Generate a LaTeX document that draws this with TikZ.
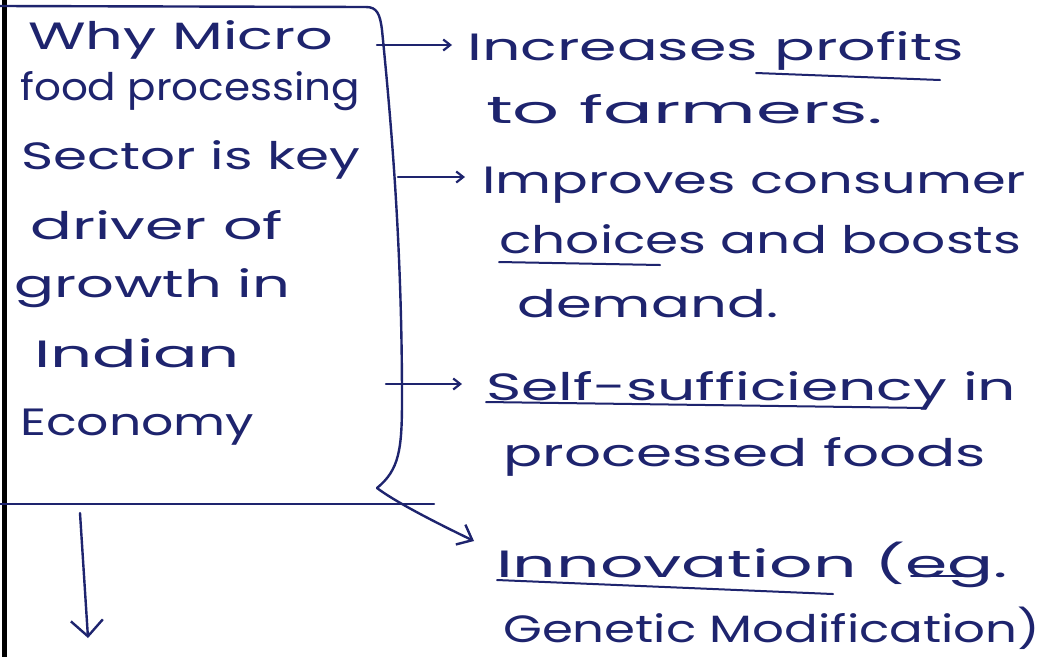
\documentclass[tikz,border=0pt]{standalone}
\usepackage{fontspec}
\usepackage{graphicx}
\setmainfont{Poppins}
\usetikzlibrary{arrows.meta,calc}
\definecolor{ink}{RGB}{30,36,110}
% set a line of text to a given width by stretching it sideways only
\newlength\handwd
\newcommand\handline[2]{%
  \settowidth\handwd{#2}%
  \pgfmathsetmacro\handfac{#1/\handwd}%
  \scalebox{\handfac}[1]{#2}}

\begin{document}
\begin{tikzpicture}[x=1pt,y=-1pt,
  inkline/.style={draw=ink,line width=2.4pt,line cap=round,line join=round},
  txt/.style={anchor=base west,inner sep=0pt,text=ink,font=\fontsize{38}{42}\selectfont},
  smalltip/.style={-{Straight Barb[length=7pt,width=11pt,line width=2.2pt]}},
  bigtip/.style={-{Straight Barb[length=16pt,width=32pt,line width=2.4pt]}},
]
\useasboundingbox[fill=white] (0,0) rectangle (1043,657);

% page margin rule
\draw[black,line width=5pt] (4,0) -- (4,657);

% left block: the question
\node[txt] (q1) at (28,49)  {\handline{305}{Why Micro}};
\node[txt] (q2) at (20,100) {\handline{340}{food processing}};
\node[txt] (q3) at (21,169) {\handline{339}{Sector is key}};
\node[txt] (q4) at (30,239) {\handline{253}{driver of}};
\node[txt] (q5) at (14,297) {\handline{276}{growth in}};
\node[txt] (q6) at (34,367) {\handline{206}{Indian}};
\node[txt] (q7) at (20,435) {\handline{234}{Economy}};

% right column: the reasons
\node[txt] (r1) at (467,60)  {\handline{497}{Increases profits}};
\node[txt] (r1b) at (486,123) {\handline{397}{to farmers.}};
\node[txt] (r2) at (482,193) {\handline{544}{Improves consumer}};
\node[txt] (r2b) at (499,253) {\handline{522}{choices and boosts}};
\node[txt] (r2c) at (517,317) {\handline{261}{demand.}};
\node[txt] (r3) at (486,400) {\handline{530}{Self-sufficiency in}};
\node[txt] (r3b) at (503,466) {\handline{483}{processed foods}};
\node[txt] (r4) at (496,577) {\handline{512}{Innovation (eg.}};
\node[txt] (r4b) at (503,642) {\handline{537}{Genetic Modification)}};

% box top and bracket
\draw[inkline] (0,6) -- (366,7) .. controls (377,7) and (380,14) .. (382,30)
  .. controls (392,130) and (402,250) .. (402,400)
  .. controls (402,450) and (399,470) .. (377,488);

% lower rule
\coordinate (h1) at (0,504);
\coordinate (h2) at (434,504);
\draw[inkline] (h1) -- (h2);

% branch points on the bracket
\coordinate (b1) at (377,45);
\coordinate (b2) at (398,177);
\coordinate (b3) at (386,384);
\coordinate (b4) at (377,488);

\draw[inkline,smalltip,shorten >=15pt] (b1) -- (b1 -| r1.west);
\draw[inkline,smalltip,shorten >=17pt] (b2) -- (b2 -| r2.west);
\draw[inkline,smalltip,shorten >=24pt] (b3) -- (b3 -| r3.west);
\draw[inkline,-{Straight Barb[length=13pt,width=22pt,line width=2.4pt]}]
  (b4) .. controls (390,498) and (420,515) .. ($(r4.base west)+(-22,-36)$);

% down arrow below the rule
\coordinate (d1) at (80,513);
\coordinate (d2) at (88,638);
\draw[inkline,bigtip] (d1) -- (d2);

% underlined words
\draw[inkline,line width=2pt] (756,73) -- (940,80);
\draw[inkline,line width=2pt] (499,262) -- (660,265);
\draw[inkline,line width=2pt] (486,402) -- (926,408);
\draw[inkline,line width=2pt] (497,580) -- (833,594);
\draw[inkline,line width=2pt] (911,576) -- (965,576);
\end{tikzpicture}
\end{document}
